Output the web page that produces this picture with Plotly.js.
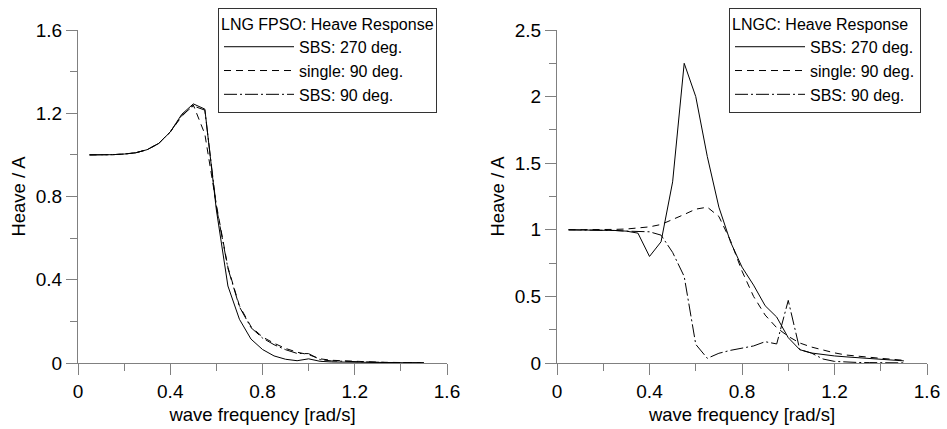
<!DOCTYPE html>
<html>
<head>
<meta charset="utf-8">
<script src="https://cdn.plot.ly/plotly-3.0.1.min.js"></script>
<style>html,body{margin:0;padding:0;background:#fff}#chart{width:947px;height:429px}</style>
</head>
<body>
<div id="chart"></div>
<script>
// wave frequency [rad/s]
const freq = [0.05,0.10,0.15,0.20,0.25,0.30,0.35,0.40,0.45,0.50,0.55,0.60,0.65,0.70,0.75,0.80,0.85,0.90,0.95,1.00,1.05,1.10,1.15,1.20,1.25,1.30,1.35,1.40,1.45,1.50];

// LNG FPSO: Heave Response
const fpsoSBS270 = [1.000,1.000,1.001,1.004,1.010,1.025,1.055,1.110,1.195,1.245,1.220,0.735,0.370,0.210,0.115,0.065,0.034,0.018,0.011,0.020,0.008,0.005,0.004,0.003,0.002,0.002,0.001,0.001,0.001,0.001];
const fpsoSingle90 = [1.000,1.000,1.001,1.004,1.010,1.025,1.055,1.110,1.185,1.240,1.100,0.760,0.460,0.275,0.175,0.125,0.095,0.070,0.052,0.040,0.020,0.013,0.010,0.007,0.005,0.004,0.003,0.002,0.001,0.001];
const fpsoSBS90 = [1.000,1.000,1.001,1.004,1.010,1.025,1.055,1.110,1.190,1.235,1.215,0.750,0.455,0.270,0.170,0.120,0.088,0.064,0.046,0.045,0.016,0.010,0.008,0.006,0.004,0.003,0.002,0.002,0.001,0.001];

// LNGC: Heave Response
const lngcSBS270 = [1.000,1.000,1.000,0.998,0.995,0.990,0.975,0.800,0.910,1.360,2.250,2.000,1.550,1.170,0.910,0.720,0.585,0.430,0.345,0.190,0.100,0.075,0.062,0.053,0.046,0.040,0.035,0.028,0.022,0.016];
const lngcSingle90 = [1.000,1.000,1.000,1.001,1.003,1.006,1.012,1.022,1.040,1.075,1.115,1.155,1.170,1.100,0.920,0.690,0.500,0.360,0.265,0.200,0.150,0.120,0.097,0.076,0.060,0.050,0.042,0.035,0.028,0.020];
const lngcSBS90 = [1.000,1.000,1.000,0.998,0.995,0.990,0.990,0.985,0.960,0.830,0.650,0.140,0.035,0.073,0.095,0.110,0.128,0.160,0.143,0.470,0.100,0.075,0.030,0.012,0.006,0.004,0.003,0.002,0.001,0.001];

const seriesNames = ['SBS: 270 deg.','single: 90 deg.','SBS: 90 deg.'];
const dashes = ['solid','7px,5px','13px,3px,2px,3px'];

const traces = [];
[[fpsoSBS270,fpsoSingle90,fpsoSBS90],[lngcSBS270,lngcSingle90,lngcSBS90]].forEach((set,pi)=>{
  set.forEach((ys,i)=>{
    traces.push({
      x: freq, y: ys, type:'scatter', mode:'lines', name: seriesNames[i],
      xaxis: pi===0?'x':'x2', yaxis: pi===0?'y':'y2',
      legend: pi===0?'legend':'legend2',
      line:{color:'#000', width:1, dash:dashes[i]}
    });
  });
});

const fam = '"Liberation Sans", Arial, sans-serif';
const font = {family:fam, size:16, color:'#000'};
const tickFont = {family:fam, size:19, color:'#000'};
const titleFont = {family:fam, size:18.5, color:'#000'};
const axisCommon = {
  showline:true, linecolor:'#808080', linewidth:1, showgrid:false, zeroline:false,
  ticks:'outside', ticklen:11, tickcolor:'#808080', tickwidth:1,
  tickfont:tickFont, fixedrange:true
};
const xCommon = {...axisCommon, range:[0,1.6], tickvals:[0,0.4,0.8,1.2,1.6], ticktext:['0','0.4','0.8','1.2','1.6'],
  minor:{tickvals:[0.2,0.6,1.0,1.4], ticks:'outside', ticklen:7, tickcolor:'#808080'},
  title:{text:'wave frequency [rad/s]', font:titleFont, standoff:7}};

const legendCommon = {y:1.066, xanchor:'left', yanchor:'top', bordercolor:'#333', borderwidth:1, bgcolor:'#fff',
  font:font, tracegroupgap:0, itemwidth:70};

const layout = {
  width:947, height:429,
  margin:{l:0, r:0, t:30, b:66},
  paper_bgcolor:'#fff', plot_bgcolor:'#fff',
  font: font,
  showlegend:true,
  xaxis:{...xCommon, domain:[78/947, 447/947], anchor:'y'},
  yaxis:{...axisCommon, range:[0,1.6], tickvals:[0,0.4,0.8,1.2,1.6], ticktext:['0','0.4','0.8','1.2','1.6'],
    minor:{tickvals:[0.2,0.6,1.0,1.4], ticks:'outside', ticklen:7, tickcolor:'#808080'},
    anchor:'x', title:{text:'Heave / A', font:titleFont, standoff:5}},
  xaxis2:{...xCommon, domain:[557/947, 927/947], anchor:'y2'},
  yaxis2:{...axisCommon, range:[0,2.5], tickvals:[0,0.5,1,1.5,2,2.5], ticktext:['0','0.5','1','1.5','2','2.5'],
    minor:{tickvals:[0.25,0.75,1.25,1.75,2.25], ticks:'outside', ticklen:7, tickcolor:'#808080'},
    anchor:'x2', title:{text:'Heave / A', font:titleFont, standoff:5}},
  legend:{...legendCommon, x:218/947, title:{text:'LNG FPSO: Heave Response', font:font}},
  legend2:{...legendCommon, x:729/947, title:{text:'LNGC: Heave Response', font:font}}
};

Plotly.newPlot('chart', traces, layout, {displayModeBar:false, staticPlot:true});
</script>
</body>
</html>
